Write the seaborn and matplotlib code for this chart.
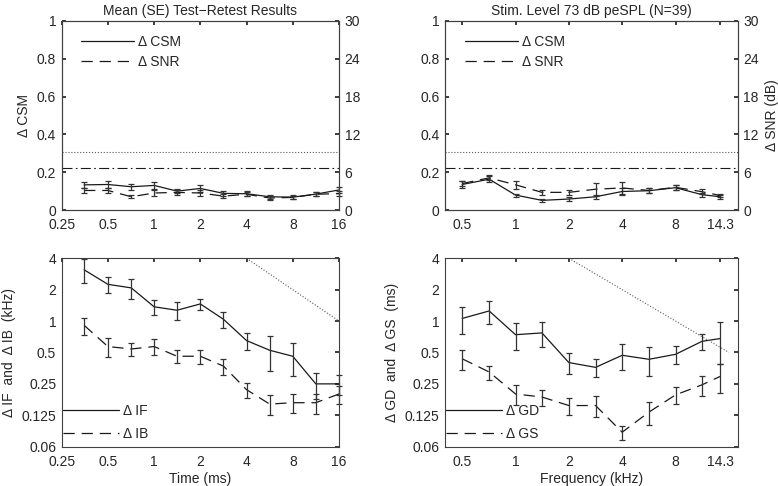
import matplotlib
matplotlib.use("Agg")
import matplotlib.pyplot as plt
import seaborn as sns
import pandas as pd
from matplotlib.lines import Line2D

# time panels (ms)
time_ms = [0.35, 0.5, 0.71, 1, 1.41, 2, 2.83, 4, 5.66, 8, 11.3, 16]
csm_time = [0.133, 0.135, 0.123, 0.13, 0.10, 0.114, 0.088, 0.086, 0.07, 0.068, 0.084, 0.106]
csm_time_se = [0.015, 0.016, 0.017, 0.018, 0.012, 0.02, 0.014, 0.014, 0.012, 0.01, 0.01, 0.018]
snr_time = [3.1, 3.1, 2.1, 2.7, 2.8, 2.7, 2.2, 2.5, 1.9, 2.0, 2.5, 2.6]
snr_time_se = [0.35, 0.4, 0.25, 0.45, 0.35, 0.5, 0.35, 0.35, 0.3, 0.25, 0.3, 0.4]
d_if = [3.1, 2.25, 2.08, 1.37, 1.27, 1.46, 1.04, 0.65, 0.525, 0.46, 0.25, 0.25]
d_if_se = [0.8, 0.4, 0.47, 0.22, 0.25, 0.18, 0.18, 0.12, 0.19, 0.16, 0.07, 0.055]
d_ib = [0.91, 0.57, 0.54, 0.57, 0.46, 0.46, 0.37, 0.22, 0.16, 0.165, 0.165, 0.2]
d_ib_se = [0.17, 0.12, 0.08, 0.1, 0.065, 0.07, 0.065, 0.036, 0.034, 0.033, 0.035, 0.04]

# frequency panels (kHz)
freq_khz = [0.5, 0.71, 1, 1.41, 2, 2.83, 4, 5.66, 8, 11.3, 14.3]
csm_freq = [0.135, 0.163, 0.079, 0.051, 0.058, 0.07, 0.098, 0.102, 0.118, 0.081, 0.07]
csm_freq_se = [0.018, 0.015, 0.008, 0.007, 0.009, 0.012, 0.016, 0.014, 0.013, 0.01, 0.01]
snr_freq = [4.2, 5.1, 4.0, 2.8, 2.8, 3.3, 3.5, 3.1, 3.6, 2.9, 2.3]
snr_freq_se = [0.4, 0.4, 0.6, 0.4, 0.4, 1.0, 1.0, 0.4, 0.4, 0.4, 0.3]
d_gd = [1.06, 1.25, 0.74, 0.77, 0.40, 0.36, 0.47, 0.43, 0.48, 0.64, 0.68]
d_gd_se = [0.3, 0.32, 0.21, 0.2, 0.09, 0.07, 0.13, 0.13, 0.095, 0.11, 0.29]
d_gs = [0.435, 0.325, 0.2, 0.187, 0.155, 0.155, 0.086, 0.134, 0.196, 0.245, 0.295]
d_gs_se = [0.095, 0.05, 0.042, 0.033, 0.03, 0.035, 0.013, 0.033, 0.035, 0.055, 0.09]

# reference lines
csm_dotted = 0.305
csm_dashdot = 0.22
slope_line_time = ([4, 16], [4, 1])
slope_line_freq = ([2, 16], [4, 0.5])

time_ticks = [0.25, 0.5, 1, 2, 4, 8, 16]
time_labels = ['0.25', '0.5', '1', '2', '4', '8', '16']
freq_ticks = [0.5, 1, 2, 4, 8, 14.3]
freq_labels = ['0.5', '1', '2', '4', '8', '14.3']
log_y_ticks = [0.0625, 0.125, 0.25, 0.5, 1, 2, 4]
log_y_labels = ['0.06', '0.125', '0.25', '0.5', '1', '2', '4']

sns.set_theme(style="white")
plt.rcParams['font.family'] = ['Liberation Sans', 'DejaVu Sans']
plt.rcParams['font.size'] = 10
plt.rcParams['axes.linewidth'] = 0.8
plt.rcParams['axes.edgecolor'] = '0.25'

DASH = (0, (9, 5.5))
FS = 10

fig = plt.figure(figsize=(7.78, 4.86), dpi=100)
ax_tl = fig.add_axes([0.0793, 0.5679, 0.3564, 0.3889])
ax_tr = fig.add_axes([0.572, 0.5679, 0.3765, 0.3889])
ax_bl = fig.add_axes([0.0793, 0.0809, 0.3564, 0.3877])
ax_br = fig.add_axes([0.572, 0.0809, 0.3765, 0.3877])


def line_with_err(ax, x, y, se, ls, clip=True):
    df = pd.DataFrame({'x': x, 'y': y})
    sns.lineplot(data=df, x='x', y='y', ax=ax, color='k', linestyle=ls, lw=0.9,
                 legend=False, estimator=None, sort=False)
    eb = ax.errorbar(x, y, yerr=se, fmt='none', ecolor='0.2', elinewidth=0.9,
                     capsize=2.2, capthick=0.9)
    for art in eb.get_children():
        art.set_clip_on(clip)


def style_x(ax, ticks, labels, lim):
    ax.set_xscale('log')
    ax.set_xlim(*lim)
    ax.set_xticks(ticks)
    ax.set_xticklabels(labels)
    ax.minorticks_off()
    ax.set_xlabel('')
    ax.set_ylabel('')


def top_panel(ax, x, csm, csm_se, snr, snr_se, ticks, labels, lim, title, right_label):
    line_with_err(ax, x, csm, csm_se, '-', clip=False)
    ax2 = ax.twinx()
    line_with_err(ax2, x, snr, snr_se, DASH, clip=False)
    ax.axhline(csm_dotted, color='0.35', ls=':', lw=0.8)
    ax.axhline(csm_dashdot, color='k', ls=(0, (9, 3, 1.5, 3)), lw=0.8)
    style_x(ax, ticks, labels, lim)
    ax.set_ylim(0, 1)
    ax.set_yticks([0, 0.2, 0.4, 0.6, 0.8, 1])
    ax.set_yticklabels(['0', '0.2', '0.4', '0.6', '0.8', '1'])
    ax2.set_ylim(0, 30)
    ax2.set_yticks([0, 6, 12, 18, 24, 30])
    ax2.set_ylabel(right_label, fontsize=FS)
    ax2.set_xlim(*lim)
    ax.tick_params(axis='x', direction='in', top=True, length=3, labelsize=FS, pad=6)
    ax.tick_params(axis='y', direction='in', length=3, labelsize=FS, pad=4)
    ax2.tick_params(direction='in', length=3, labelsize=FS, pad=4)
    ax.set_title(title, fontsize=FS, pad=4)
    handles = [Line2D([], [], color='k', lw=0.9, ls='-'),
               Line2D([], [], color='k', lw=0.9, ls=DASH)]
    ax2.legend(handles, ['\u0394 CSM', '\u0394 SNR'], loc='upper left', frameon=False,
               fontsize=FS, handlelength=3.8, handletextpad=0.3, labelspacing=0.45,
               bbox_to_anchor=(0.05, 0.955), borderaxespad=0)
    return ax2


top_panel(ax_tl, time_ms, csm_time, csm_time_se, snr_time, snr_time_se,
          time_ticks, time_labels, (0.25, 16), 'Mean (SE) Test\u2212Retest Results', '')
ax_tl.set_ylabel('\u0394 CSM', fontsize=FS)
top_panel(ax_tr, freq_khz, csm_freq, csm_freq_se, snr_freq, snr_freq_se,
          freq_ticks, freq_labels, (0.4, 18), 'Stim. Level 73 dB peSPL (N=39)', '\u0394 SNR (dB)')


def bottom_panel(ax, x, a, a_se, b, b_se, slope, ticks, labels, lim, xlabel, ylabel, names):
    line_with_err(ax, x, a, a_se, '-', clip=False)
    line_with_err(ax, x, b, b_se, DASH, clip=False)
    ax.plot(slope[0], slope[1], color='0.35', ls=':', lw=0.8)
    style_x(ax, ticks, labels, lim)
    ax.set_yscale('log', base=2)
    ax.set_ylim(0.0625, 4)
    ax.set_yticks(log_y_ticks)
    ax.set_yticklabels(log_y_labels)
    ax.minorticks_off()
    ax.tick_params(axis='x', direction='in', top=True, length=3, labelsize=FS, pad=6)
    ax.tick_params(axis='y', direction='in', right=True, length=3, labelsize=FS, pad=4)
    ax.set_xlabel(xlabel, fontsize=FS, labelpad=2)
    ax.set_ylabel(ylabel, fontsize=FS)
    handles = [Line2D([], [], color='k', lw=0.9, ls='-'),
               Line2D([], [], color='k', lw=0.9, ls=DASH)]
    ax.legend(handles, names, loc='lower left', frameon=False, fontsize=FS,
              handlelength=4.0, handletextpad=0.3, labelspacing=0.65,
              bbox_to_anchor=(-0.015, 0.0), borderaxespad=0)


bottom_panel(ax_bl, time_ms, d_if, d_if_se, d_ib, d_ib_se, slope_line_time,
             time_ticks, time_labels, (0.25, 16), 'Time (ms)',
             '\u0394 IF  and  \u0394 IB  (kHz)', ['\u0394 IF', '\u0394 IB'])
bottom_panel(ax_br, freq_khz, d_gd, d_gd_se, d_gs, d_gs_se, slope_line_freq,
             freq_ticks, freq_labels, (0.4, 18), 'Frequency (kHz)',
             '\u0394 GD  and  \u0394 GS  (ms)', ['\u0394 GD', '\u0394 GS'])

fig.savefig('out.png', dpi=100)
